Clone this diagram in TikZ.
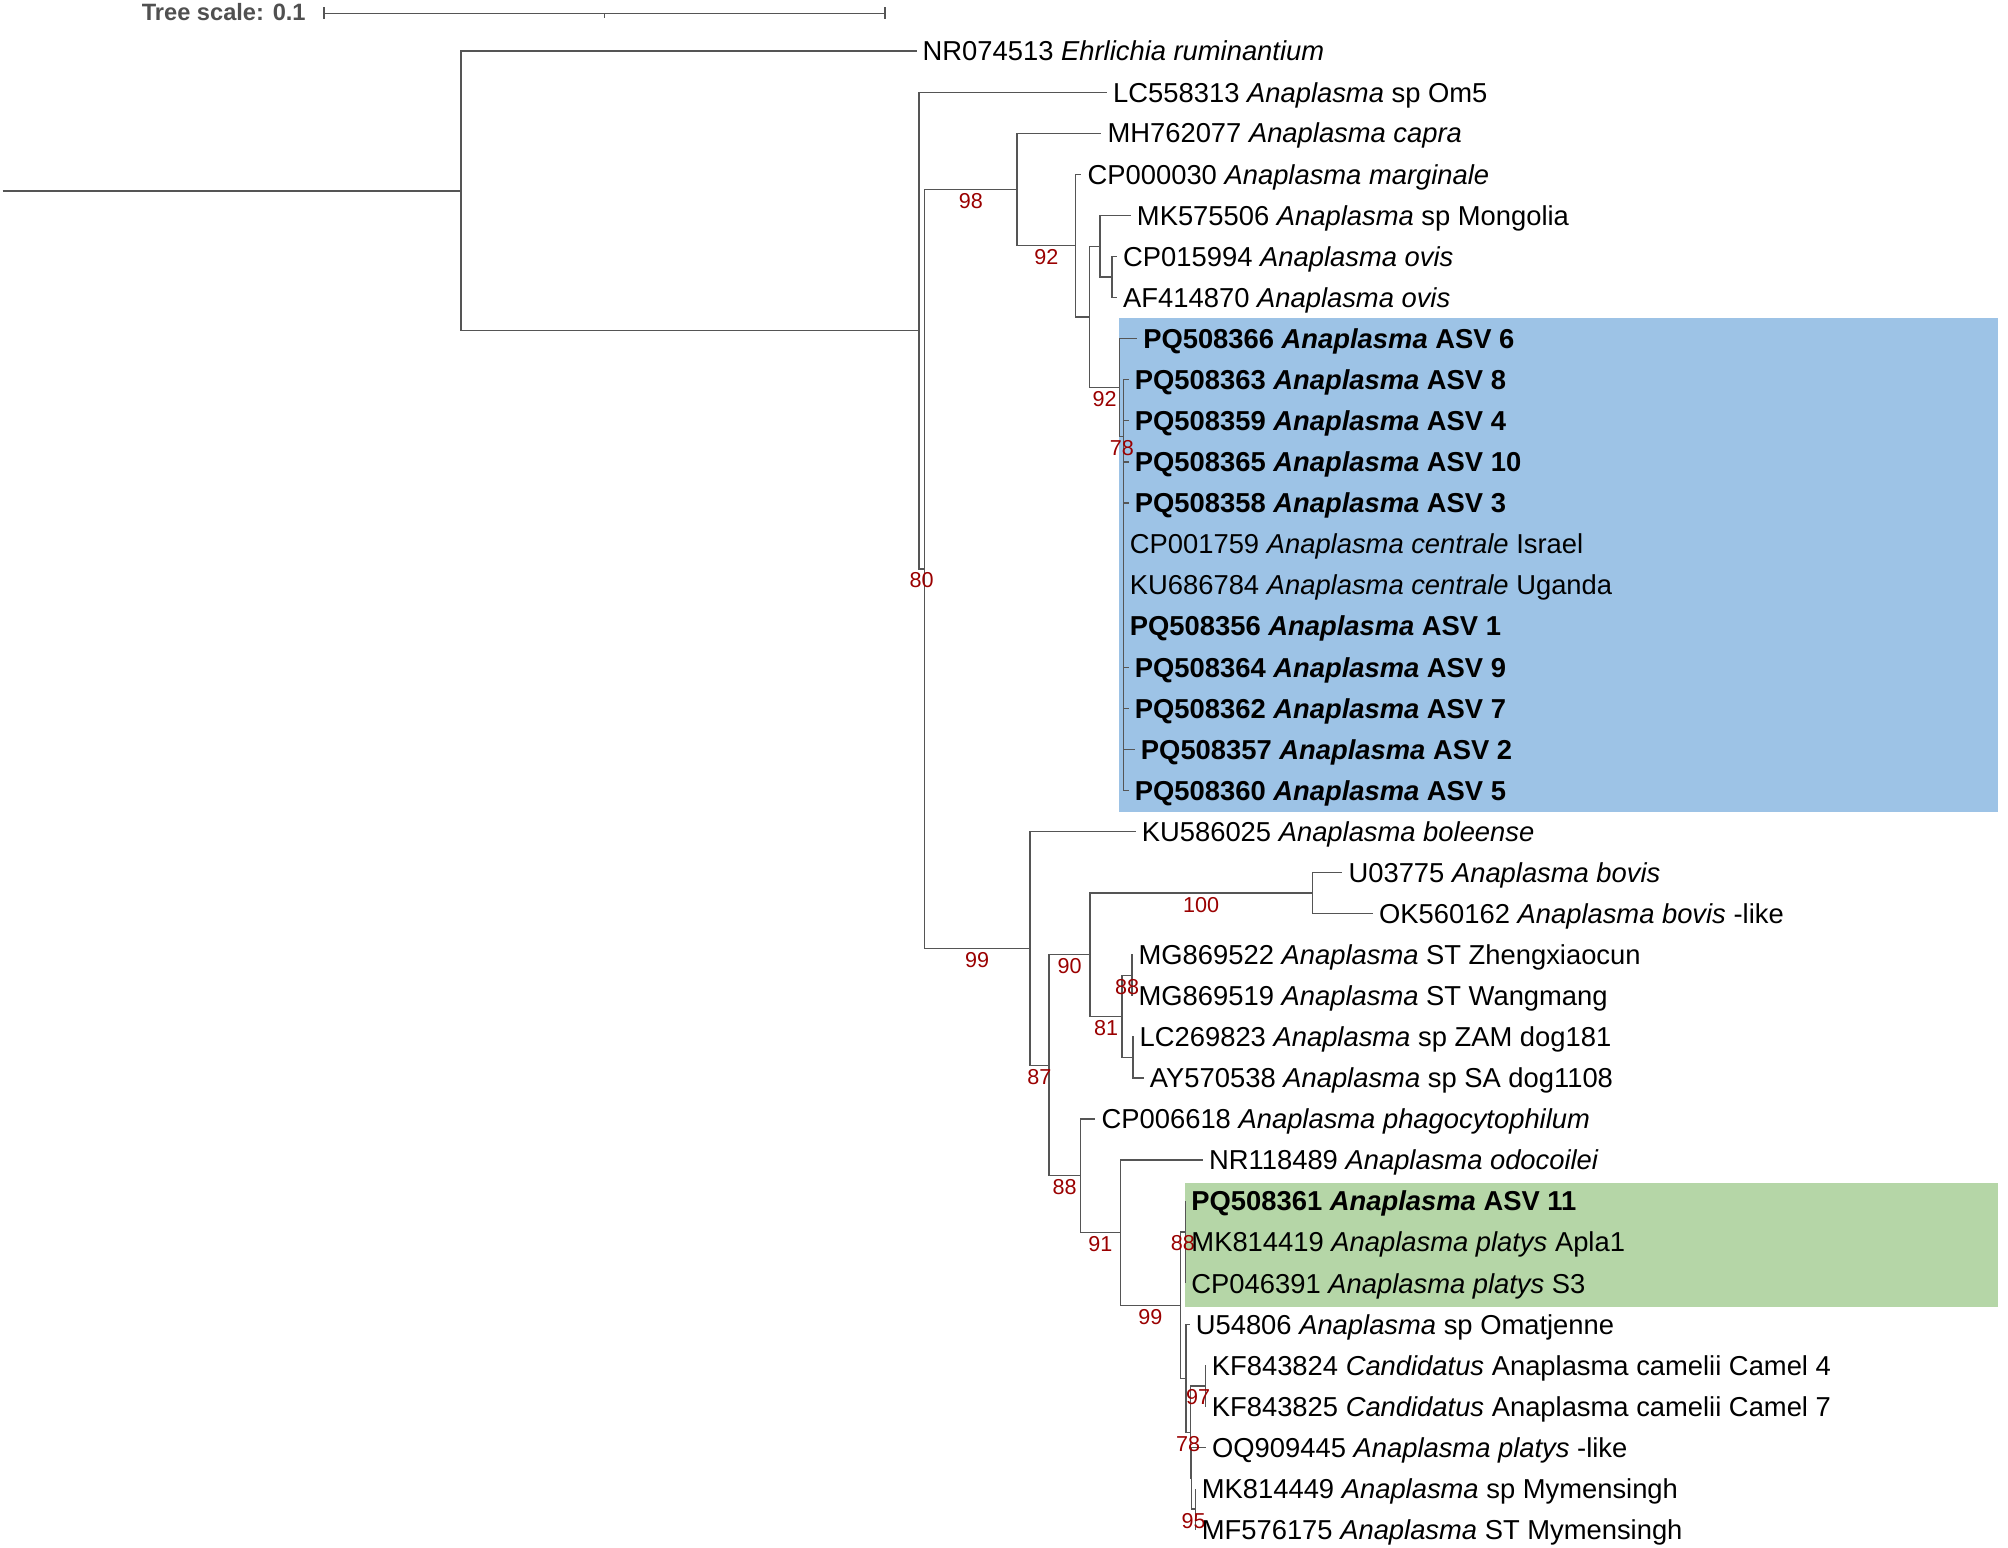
\documentclass[tikz,border=0pt]{standalone}
\usepackage{fontspec}
\setmainfont{Liberation Sans}
\usetikzlibrary{calc}
\definecolor{br}{HTML}{555555}
\definecolor{bootred}{HTML}{9A0000}
\definecolor{hlblue}{HTML}{9DC3E6}
\definecolor{hlgreen}{HTML}{B5D6A7}
\definecolor{scalegray}{HTML}{505050}
\begin{document}
\begin{tikzpicture}[x=0.5pt,y=-0.5pt,
  edge/.style={draw=br,line width=0.55pt},
  leaf/.style={anchor=base west,inner sep=0pt,xshift=2.2pt,yshift=-3.8pt,font=\fontsize{10.65}{12}\selectfont},
  boot/.style={midway,inner sep=0pt,yshift=-4.5pt,text=bootred,font=\fontsize{8.4}{10}\selectfont},
  hl/.style={draw=none},
]
\useasboundingbox (0,0) rectangle (1563,1204.2);

% clade highlights
\fill[hlblue] (871.3,247.4) rectangle (1555,632.0);
\fill[hlgreen] (922.4,920.5) rectangle (1555,1017.5);

% scale bar
\coordinate (sb1) at (252.2,10.4);
\coordinate (sb2) at (688.9,10.4);
\coordinate (sbm) at (470.5,10.4);
\draw[edge] (sb1) -- (sb2);
\draw[edge] ($(sb1)+(0,-4.7)$) -- ($(sb1)+(0,4.7)$);
\draw[edge] ($(sb2)+(0,-4.7)$) -- ($(sb2)+(0,4.7)$);
\draw[edge] (sbm) -- ($(sbm)+(0,3.6)$);
\node[anchor=base east,inner sep=0pt,text=scalegray,font=\fontsize{9.2}{11}\selectfont\bfseries] (ts) at (238.3,15.7) {Tree scale: 0.1};

% internal nodes
\coordinate (root) at (2.1,148.55);
\coordinate (R) at (358.8,148.55);
\coordinate (A) at (715.2,257.3);
\coordinate (B) at (719.6,442.8);
\coordinate (C) at (791.7,147.45);
\coordinate (D) at (837.1,191.2);
\coordinate (E) at (847.9,246.7);
\coordinate (F) at (856.3,191.7);
\coordinate (H) at (865.6,215.65);
\coordinate (G) at (871.6,301.7);
\coordinate (I) at (874.7,339.8);
\coordinate (K) at (801.6,738.2);
\coordinate (L) at (816.5,829.2);
\coordinate (M) at (848.5,743.15);
\coordinate (N) at (1021.5,695.2);
\coordinate (O) at (873.4,791.1);
\coordinate (P) at (881.2,759.1);
\coordinate (Q) at (882.0,823.1);
\coordinate (S) at (841.0,915.2);
\coordinate (T) at (872.0,959.5);
\coordinate (U) at (918.8,1015.95);
\coordinate (W) at (922.6,958.95);
\coordinate (V) at (923.0,1072.9);
\coordinate (X) at (926.6,1114.8);
\coordinate (X2) at (927.4,1150.75);
\coordinate (Y) at (938.5,1078.8);
\coordinate (Z) at (930.7,1174.7);

% leaf tips
\coordinate (t0) at (713.4,39.8);
\coordinate (t1) at (861.7,71.8);
\coordinate (t2) at (857.3,103.7);
\coordinate (t3) at (841.8,135.7);
\coordinate (t4) at (880.2,167.7);
\coordinate (t5) at (869.5,199.7);
\coordinate (t6) at (869.5,231.6);
\coordinate (t7) at (885.1,263.6);
\coordinate (t8) at (878.6,295.6);
\coordinate (t9) at (878.6,327.5);
\coordinate (t10) at (878.6,359.5);
\coordinate (t11) at (878.6,391.5);
\coordinate (t12) at (874.7,423.4);
\coordinate (t13) at (874.7,455.4);
\coordinate (t14) at (874.7,487.4);
\coordinate (t15) at (878.6,519.4);
\coordinate (t16) at (878.6,551.3);
\coordinate (t17) at (883.3,583.3);
\coordinate (t18) at (878.6,615.3);
\coordinate (t19) at (884.0,647.2);
\coordinate (t20) at (1044.9,679.2);
\coordinate (t21) at (1068.7,711.2);
\coordinate (t22) at (881.5,743.1);
\coordinate (t23) at (881.5,775.1);
\coordinate (t24) at (882.3,807.1);
\coordinate (t25) at (890.3,839.1);
\coordinate (t26) at (852.7,871.0);
\coordinate (t27) at (936.4,903.0);
\coordinate (t28) at (922.6,935.0);
\coordinate (t29) at (922.6,966.9);
\coordinate (t30) at (922.6,998.9);
\coordinate (t31) at (926.0,1030.9);
\coordinate (t32) at (938.5,1062.8);
\coordinate (t33) at (938.5,1094.8);
\coordinate (t34) at (938.7,1126.8);
\coordinate (t35) at (930.7,1158.7);
\coordinate (t36) at (930.7,1190.7);

% branches
\draw[edge] (root) -- (R);
\draw[edge] (R) |- (t0);
\draw[edge] (R) |- (A);
\draw[edge] (A) |- (t1);
\draw[edge] (A) |- (B);
\draw[edge] (B) |- (C);
\draw[edge] (B) |- (K);
\draw[edge] (C) |- (t2);
\draw[edge] (C) |- (D);
\draw[edge] (D) |- (t3);
\draw[edge] (D) |- (E);
\draw[edge] (E) |- (F);
\draw[edge] (E) |- (G);
\draw[edge] (F) |- (t4);
\draw[edge] (F) |- (H);
\draw[edge] (H) |- (t5);
\draw[edge] (H) |- (t6);
\draw[edge] (G) |- (t7);
\draw[edge] (G) |- (I);
\foreach \t in {8,...,18} {\draw[edge] (I) |- (t\t);}
\draw[edge] (K) |- (t19);
\draw[edge] (K) |- (L);
\draw[edge] (L) |- (M);
\draw[edge] (L) |- (S);
\draw[edge] (M) |- (N);
\draw[edge] (M) |- (O);
\draw[edge] (N) |- (t20);
\draw[edge] (N) |- (t21);
\draw[edge] (O) |- (P);
\draw[edge] (O) |- (Q);
\draw[edge] (P) |- (t22);
\draw[edge] (P) |- (t23);
\draw[edge] (Q) |- (t24);
\draw[edge] (Q) |- (t25);
\draw[edge] (S) |- (t26);
\draw[edge] (S) |- (T);
\draw[edge] (T) |- (t27);
\draw[edge] (T) |- (U);
\draw[edge] (U) |- (W);
\draw[edge] (U) |- (V);
\draw[edge] (W) |- (t28);
\draw[edge] (W) |- (t29);
\draw[edge] (W) |- (t30);
\draw[edge] (V) |- (t31);
\draw[edge] (V) |- (X);
\draw[edge] (X) |- (Y);
\draw[edge] (X) |- (X2);
\draw[edge] (Y) |- (t32);
\draw[edge] (Y) |- (t33);
\draw[edge] (X2) |- (t34);
\draw[edge] (X2) |- (Z);
\draw[edge] (Z) |- (t35);
\draw[edge] (Z) |- (t36);

% bootstrap values
\path (A |- B) -- (B) node[boot] (b80) {80};
\path (B |- C) -- (C) node[boot] (b98) {98};
\path (C |- D) -- (D) node[boot] (b92a) {92};
\path (E |- G) -- (G) node[boot] (b92b) {92};
\path (G |- I) -- (I) node[boot] (b78a) {78};
\path (B |- K) -- (K) node[boot] (b99a) {99};
\path (K |- L) -- (L) node[boot] (b87) {87};
\path (L |- M) -- (M) node[boot] (b90) {90};
\path (M |- N) -- (N) node[boot] (b100) {100};
\path (M |- O) -- (O) node[boot] (b81) {81};
\path (O |- P) -- (P) node[boot] (b88a) {88};
\path (L |- S) -- (S) node[boot] (b88b) {88};
\path (S |- T) -- (T) node[boot] (b91) {91};
\path (T |- U) -- (U) node[boot] (b99b) {99};
\path (U |- W) -- (W) node[boot] (b88c) {88};
\path (V |- X) -- (X) node[boot] (b78b) {78};
\path (X |- Y) -- (Y) node[boot] (b97) {97};
\path (X2 |- Z) -- (Z) node[boot] (b95) {95};

% leaf labels
\node[leaf] (n0) at (t0) {NR074513 \textit{Ehrlichia ruminantium}};
\node[leaf] (n1) at (t1) {LC558313 \textit{Anaplasma} sp Om5};
\node[leaf] (n2) at (t2) {MH762077 \textit{Anaplasma capra}};
\node[leaf] (n3) at (t3) {CP000030 \textit{Anaplasma marginale}};
\node[leaf] (n4) at (t4) {MK575506 \textit{Anaplasma} sp Mongolia};
\node[leaf] (n5) at (t5) {CP015994 \textit{Anaplasma ovis}};
\node[leaf] (n6) at (t6) {AF414870 \textit{Anaplasma ovis}};
\node[leaf] (n7) at (t7) {\textbf{PQ508366 \textit{Anaplasma} ASV 6}};
\node[leaf] (n8) at (t8) {\textbf{PQ508363 \textit{Anaplasma} ASV 8}};
\node[leaf] (n9) at (t9) {\textbf{PQ508359 \textit{Anaplasma} ASV 4}};
\node[leaf] (n10) at (t10) {\textbf{PQ508365 \textit{Anaplasma} ASV 10}};
\node[leaf] (n11) at (t11) {\textbf{PQ508358 \textit{Anaplasma} ASV 3}};
\node[leaf] (n12) at (t12) {CP001759 \textit{Anaplasma centrale} Israel};
\node[leaf] (n13) at (t13) {KU686784 \textit{Anaplasma centrale} Uganda};
\node[leaf] (n14) at (t14) {\textbf{PQ508356 \textit{Anaplasma} ASV 1}};
\node[leaf] (n15) at (t15) {\textbf{PQ508364 \textit{Anaplasma} ASV 9}};
\node[leaf] (n16) at (t16) {\textbf{PQ508362 \textit{Anaplasma} ASV 7}};
\node[leaf] (n17) at (t17) {\textbf{PQ508357 \textit{Anaplasma} ASV 2}};
\node[leaf] (n18) at (t18) {\textbf{PQ508360 \textit{Anaplasma} ASV 5}};
\node[leaf] (n19) at (t19) {KU586025 \textit{Anaplasma boleense}};
\node[leaf] (n20) at (t20) {U03775 \textit{Anaplasma bovis}};
\node[leaf] (n21) at (t21) {OK560162 \textit{Anaplasma bovis} -like};
\node[leaf] (n22) at (t22) {MG869522 \textit{Anaplasma} ST Zhengxiaocun};
\node[leaf] (n23) at (t23) {MG869519 \textit{Anaplasma} ST Wangmang};
\node[leaf] (n24) at (t24) {LC269823 \textit{Anaplasma} sp ZAM dog181};
\node[leaf] (n25) at (t25) {AY570538 \textit{Anaplasma} sp SA dog1108};
\node[leaf] (n26) at (t26) {CP006618 \textit{Anaplasma phagocytophilum}};
\node[leaf] (n27) at (t27) {NR118489 \textit{Anaplasma odocoilei}};
\node[leaf] (n28) at (t28) {\textbf{PQ508361 \textit{Anaplasma} ASV 11}};
\node[leaf] (n29) at (t29) {MK814419 \textit{Anaplasma platys} Apla1};
\node[leaf] (n30) at (t30) {CP046391 \textit{Anaplasma platys} S3};
\node[leaf] (n31) at (t31) {U54806 \textit{Anaplasma} sp Omatjenne};
\node[leaf] (n32) at (t32) {KF843824 \textit{Candidatus} Anaplasma camelii Camel 4};
\node[leaf] (n33) at (t33) {KF843825 \textit{Candidatus} Anaplasma camelii Camel 7};
\node[leaf] (n34) at (t34) {OQ909445 \textit{Anaplasma platys} -like};
\node[leaf] (n35) at (t35) {MK814449 \textit{Anaplasma} sp Mymensingh};
\node[leaf] (n36) at (t36) {MF576175 \textit{Anaplasma} ST Mymensingh};
\end{tikzpicture}
\end{document}
